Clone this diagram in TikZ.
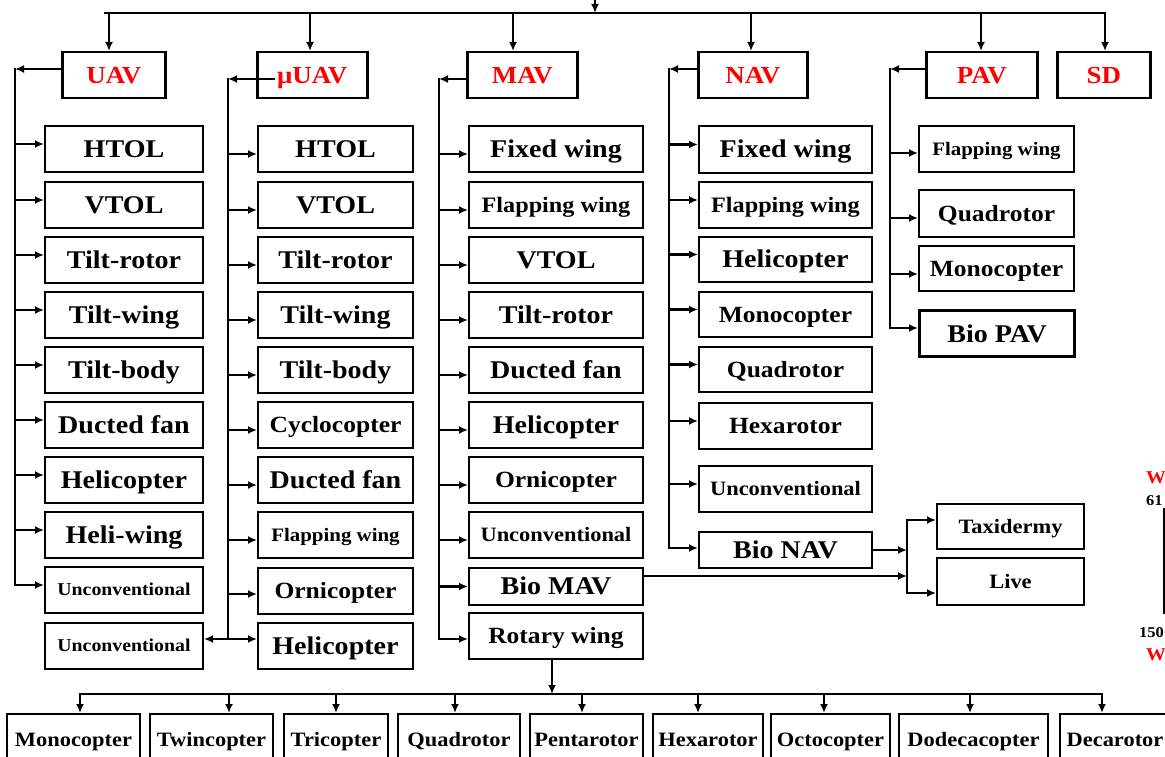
\documentclass[tikz,border=0pt]{standalone}
\usepackage{fontspec}
\setmainfont{Liberation Serif}[FakeStretch=1.1]
\usetikzlibrary{arrows.meta}
\newcommand{\fsz}[1]{\fontsize{#1pt}{#1pt}\selectfont\bfseries}
\tikzset{
  bx/.style={draw, line width=2pt, inner sep=0pt, anchor=north west, align=center,
             text depth=0pt},
  sz/.style 2 args={minimum width=#1pt, minimum height=#2pt},
  fb/.style={font=\fsz{25.5}, text height=16.9pt},
  fm/.style={font=\fsz{23.2}, text height=15.4pt},
  fw/.style={font=\fsz{22}, text height=14.6pt},
  fs/.style={font=\fsz{20.4}, text height=13.5pt},
  fx/.style={font=\fsz{19}, text height=12.6pt},
  fu/.style={font=\fsz{18}, text height=11.9pt},
  hd/.style={bx, line width=2.5pt, text=red, font=\fsz{24.5}, text height=16.2pt},
  ln/.style={line width=2.8pt, line cap=rect},
  arr/.style={line width=2.8pt, line cap=rect, -{Latex[length=9pt,width=8pt]}},
  edgetxt/.style={inner sep=0pt, anchor=west},
}
\begin{document}
\begin{tikzpicture}[x=1pt,y=-1pt]
\useasboundingbox (0,0) rectangle (1165,757);
\clip (0,0) rectangle (1165,757);

% ---------- top level ----------
\node[hd, sz={103}{46}] (uav)  at (61,51)   {UAV};
\node[hd, sz={110}{46}] (muav) at (256,51)  {μUAV};
\node[hd, sz={110}{46}] (mav)  at (466,51)  {MAV};
\node[hd, sz={109}{46}] (nav)  at (697,51)  {NAV};
\node[hd, sz={111}{46}] (pav)  at (925,51)  {PAV};
\node[hd, sz={93}{46}]  (sd)   at (1056,51) {SD};

\coordinate (root) at (595,-4);
\coordinate (tl) at (105,13);
\coordinate (tr) at (1105,13);
\draw[arr] (root) -- (root |- tl);
\draw[ln] (tl) -- (tr);
\coordinate (d1) at (109,13);
\coordinate (d2) at (310,13);
\coordinate (d3) at (513,13);
\coordinate (d4) at (751,13);
\coordinate (d5) at (981,13);
\coordinate (d6) at (1105,13);
\draw[arr] (d1) -- (d1 |- uav.north);
\draw[arr] (d2) -- (d2 |- muav.north);
\draw[arr] (d3) -- (d3 |- mav.north);
\draw[arr] (d4) -- (d4 |- nav.north);
\draw[arr] (d5) -- (d5 |- pav.north);
\draw[arr] (d6) -- (d6 |- sd.north);

% ---------- UAV column ----------
\node[bx, fb, sz={158}{46}] (u1) at (44,125) {HTOL};
\node[bx, fb, sz={158}{46}] (u2) at (44,181) {VTOL};
\node[bx, fb, sz={158}{46}] (u3) at (44,236) {Tilt-rotor};
\node[bx, fb, sz={158}{46}] (u4) at (44,291) {Tilt-wing};
\node[bx, fb, sz={158}{46}] (u5) at (44,346) {Tilt-body};
\node[bx, fb, sz={158}{46}] (u6) at (44,401) {Ducted fan};
\node[bx, fb, sz={158}{46}] (u7) at (44,456) {Helicopter};
\node[bx, fb, sz={158}{46}] (u8) at (44,511) {Heli-wing};
\node[bx, fu, sz={158}{46}] (u9) at (44,566) {Unconventional};
\node[bx, fu, sz={158}{46}] (uu) at (44,622) {Unconventional};

\coordinate (uT) at (15,69);
\coordinate (uB) at (15,584);
\draw[arr] (uav.west |- uT) -- (uT);
\draw[ln] (uT) -- (uB);
\foreach \k in {1,...,9}
  \draw[arr] ([yshift=5pt]u\k.west -| uT) -- ([yshift=5pt]u\k.west);

% ---------- muUAV column ----------
\node[bx, fb, sz={155}{46}] (m1) at (257,125) {HTOL};
\node[bx, fb, sz={155}{46}] (m2) at (257,181) {VTOL};
\node[bx, fb, sz={155}{46}] (m3) at (257,236) {Tilt-rotor};
\node[bx, fb, sz={155}{46}] (m4) at (257,291) {Tilt-wing};
\node[bx, fb, sz={155}{46}] (m5) at (257,346) {Tilt-body};
\node[bx, fm, sz={155}{46}] (m6) at (257,401) {Cyclocopter};
\node[bx, fb, sz={155}{46}] (m7) at (257,456) {Ducted fan};
\node[bx, fx, sz={155}{46}] (m8) at (257,511) {Flapping wing};
\node[bx, fm, sz={155}{46}] (m9) at (257,567) {Ornicopter};
\node[bx, fb, sz={155}{46}] (m10) at (257,622) {Helicopter};

\coordinate (mT) at (228,79);
\coordinate (mB) at (228,639);
\draw[arr] ([xshift=18pt]muav.west |- mT) -- (mT);
\draw[ln] (mT) -- (mB);
\foreach \k in {1,...,8}
  \draw[arr] ([yshift=-5pt]m\k.west -| mT) -- ([yshift=-5pt]m\k.west);
\draw[arr] ([yshift=-3pt]m9.west -| mT) -- ([yshift=-3pt]m9.west);
\draw[arr] (mB) -- (mB -| m10.west);
\draw[arr] (mB) -- (mB -| uu.east);

% ---------- MAV column ----------
\node[bx, fb, sz={174}{46}] (a1) at (468,125) {Fixed wing};
\node[bx, fw, sz={174}{46}] (a2) at (468,181) {Flapping wing};
\node[bx, fb, sz={174}{46}] (a3) at (468,236) {VTOL};
\node[bx, fb, sz={174}{46}] (a4) at (468,291) {Tilt-rotor};
\node[bx, fb, sz={174}{46}] (a5) at (468,346) {Ducted fan};
\node[bx, fb, sz={174}{46}] (a6) at (468,401) {Helicopter};
\node[bx, fm, sz={174}{46}] (a7) at (468,456) {Ornicopter};
\node[bx, fs, sz={174}{46}] (a8) at (468,511) {Unconventional};
\node[bx, fb, sz={174}{37}] (a9) at (468,567) {Bio MAV};
\node[bx, fm, sz={174}{46}] (a10) at (468,612) {Rotary wing};

\coordinate (aT) at (439,79);
\coordinate (aB) at (439,639);
\draw[arr] (mav.west |- aT) -- (aT);
\draw[ln] (aT) -- (aB);
\foreach \k in {1,...,8}
  \draw[arr] ([yshift=-5pt]a\k.west -| aT) -- ([yshift=-5pt]a\k.west);
\draw[arr] (a9.west -| aT) -- (a9.west);
\draw[arr] (aB) -- (aB -| a10.west);

% ---------- NAV column ----------
\node[bx, fb, sz={173}{47}] (n1) at (698,125) {Fixed wing};
\node[bx, fw, sz={173}{46}] (n2) at (698,181) {Flapping wing};
\node[bx, fb, sz={173}{45}] (n3) at (698,236) {Helicopter};
\node[bx, fm, sz={173}{45}] (n4) at (698,291) {Monocopter};
\node[bx, fm, sz={173}{45}] (n5) at (698,346) {Quadrotor};
\node[bx, fm, sz={173}{46}] (n6) at (698,402) {Hexarotor};
\node[bx, fs, sz={173}{46}] (n7) at (698,465) {Unconventional};
\node[bx, fb, sz={173}{36}] (n8) at (698,531) {Bio NAV};

\coordinate (nT) at (669,69);
\coordinate (nB) at (669,548);
\draw[arr] (nav.west |- nT) -- (nT);
\draw[ln] (nT) -- (nB);
\foreach \k in {1,...,7}
  \draw[arr] ([yshift=5pt]n\k.west -| nT) -- ([yshift=5pt]n\k.west);
\draw[arr] (nB) -- (nB -| n8.west);

% ---------- PAV column ----------
\node[bx, fx, sz={155}{46}] (p1) at (918,125) {Flapping wing};
\node[bx, fm, sz={155}{47}] (p2) at (918,189) {Quadrotor};
\node[bx, fm, sz={155}{45}] (p3) at (918,245) {Monocopter};
\node[bx, fb, sz={155}{46}, line width=3.2pt] (p4) at (918,309) {Bio PAV};

\coordinate (pT) at (890,69);
\coordinate (pB) at (890,328);
\draw[arr] (pav.west |- pT) -- (pT);
\draw[ln] (pT) -- (pB);
\draw[arr] ([yshift=-4pt]p1.west -| pT) -- ([yshift=-4pt]p1.west);
\draw[arr] ([yshift=-4.5pt]p2.west -| pT) -- ([yshift=-4.5pt]p2.west);
\draw[arr] ([yshift=-5.5pt]p3.west -| pT) -- ([yshift=-5.5pt]p3.west);
\draw[arr] (pB) -- (pB -| p4.west);

% ---------- Bio branches ----------
\node[bx, fs, sz={147}{45}] (tax)  at (936,503) {Taxidermy};
\node[bx, fs, sz={147}{47}] (live) at (936,557) {Live};
\coordinate (bj) at (907,576);
\coordinate (bt) at (907,520);
\coordinate (bb) at (907,593);
\draw[arr] (a9.east |- bj) -- (bj);
\draw[arr] (n8.east) -- (n8.east -| bj);
\draw[ln] (bt) -- (bb);
\draw[arr] (bt) -- (bt -| tax.west);
\draw[arr] (bb) -- (bb -| live.west);

% ---------- bottom row ----------
\node[bx, fs, sz={133}{52}] (b1) at (6,713)    {Monocopter};
\node[bx, fs, sz={123}{52}] (b2) at (149,713)  {Twincopter};
\node[bx, fs, sz={104}{52}] (b3) at (283,713)  {Tricopter};
\node[bx, fs, sz={122}{52}] (b4) at (397,713)  {Quadrotor};
\node[bx, fs, sz={113}{52}] (b5) at (529,713)  {Pentarotor};
\node[bx, fs, sz={110}{52}] (b6) at (652,713)  {Hexarotor};
\node[bx, fs, sz={119}{52}] (b7) at (770,713)  {Octocopter};
\node[bx, fs, sz={149}{52}] (b8) at (898,713)  {Dodecacopter};
\node[bx, fs, sz={110}{52}] (b9) at (1059,713) {Decarotor};

\coordinate (bl) at (80,694);
\coordinate (br) at (1102,694);
\draw[arr] ([xshift=-4pt]a10.south) -- ([xshift=-4pt]a10.south |- bl);
\draw[ln] (bl) -- (br);
\foreach \x [count=\k] in {80,229,336,455,582,698,824,970,1102}{
  \coordinate (q\k) at (\x,694);
  \draw[arr] (q\k) -- (q\k |- b\k.north);
}

% ---------- cut-off marks at the right edge ----------
\node[edgetxt, text=red, font=\fsz{18}] (w1) at (1146,478) {W};
\node[edgetxt, font=\fsz{15}] (t61) at (1146,501) {61};
\coordinate (v1) at (1164,508);
\coordinate (v2) at (1164,614);
\draw[line width=1.4pt] (v1) -- (v2);
\node[edgetxt, font=\fsz{15}] (t150) at (1139,633) {150};
\node[edgetxt, text=red, font=\fsz{18}] (w2) at (1146,655) {W};
\end{tikzpicture}
\end{document}
